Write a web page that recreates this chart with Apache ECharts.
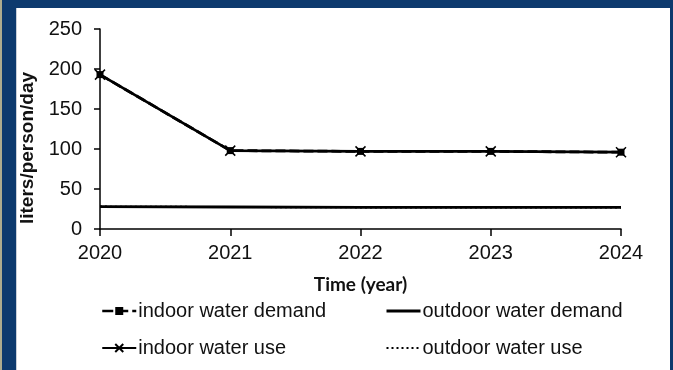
<!DOCTYPE html>
<html>
<head>
<meta charset="utf-8">
<script src="https://cdn.jsdelivr.net/npm/echarts@6/dist/echarts.min.js"></script>
<style>
  html, body { margin: 0; padding: 0; width: 673px; height: 370px; overflow: hidden; background: #0d3a6e; }
  #strip { position: absolute; left: 0; top: 0; width: 2px; height: 370px; background: #aeac8e; }
  #panel { position: absolute; left: 16px; top: 8px; width: 654px; height: 362px; background: #ffffff; border-left: 1px solid #c9cfd8; box-sizing: border-box; }
  #chart { position: absolute; left: 0; top: 0; width: 673px; height: 370px; }
</style>
</head>
<body>
<div id="strip"></div>
<div id="panel"></div>
<div id="chart"></div>
<script>
// Years on the horizontal axis
const years = ['2020', '2021', '2022', '2023', '2024'];

// Daily per-capita volumes (liters/person/day)
const indoorDemand = [193, 98, 97, 97, 96];
const indoorUse = [193, 98, 97, 97, 96];
const outdoorDemand = [28, 27.5, 27, 27, 27];
const outdoorUse = [28, 27.5, 27, 27, 27];

const seriesNames = ['indoor water demand', 'outdoor water demand', 'indoor water use', 'outdoor water use'];

const font = "'Liberation Sans', Arial, sans-serif";
const crossPath = 'path://M0,0L10,10M10,0L0,10';

const chart = echarts.init(document.getElementById('chart'), null, { renderer: 'canvas' });

const legendBase = {
  orient: 'vertical',
  top: 301,
  padding: 0,
  itemGap: 17,
  itemWidth: 34,
  itemHeight: 10,
  selectedMode: false,
  textStyle: { fontFamily: font, fontSize: 20, color: '#111', lineHeight: 20, padding: [0, 0, 0, -3] }
};

// Plain line icons (no marker) for the outdoor series
const lineOnly = { color: 'rgba(0,0,0,0)', borderWidth: 0, opacity: 0 };

chart.setOption({
  backgroundColor: 'transparent',
  animation: false,
  grid: { left: 100, right: 52, top: 29, bottom: 141, containLabel: false },
  legend: [
    Object.assign({}, legendBase, {
      left: 101,
      data: [
        { name: seriesNames[0], lineStyle: { width: 2.5, type: [11, 4] } },
        { name: seriesNames[2], lineStyle: { width: 2 } }
      ]
    }),
    Object.assign({}, legendBase, {
      left: 385,
      data: [
        { name: seriesNames[1], itemStyle: lineOnly, lineStyle: { width: 3 } },
        { name: seriesNames[3], itemStyle: lineOnly, lineStyle: { width: 2, type: [2, 3] } }
      ]
    })
  ],
  xAxis: {
    type: 'category',
    data: years,
    boundaryGap: false,
    name: 'Time (year)',
    nameLocation: 'middle',
    nameGap: 46,
    nameTextStyle: { fontFamily: "Lato, 'Liberation Sans', sans-serif", fontWeight: 'bold', fontSize: 19, color: '#111' },
    axisLine: { lineStyle: { color: '#000', width: 1.5 } },
    axisTick: { show: true, length: 7, lineStyle: { color: '#000', width: 1.5 } },
    axisLabel: { fontFamily: font, fontSize: 20, color: '#111', margin: 14 },
    splitLine: { show: false }
  },
  yAxis: {
    type: 'value',
    min: 0,
    max: 250,
    interval: 50,
    name: 'liters/person/day',
    nameLocation: 'middle',
    nameGap: 55,
    nameTextStyle: { fontFamily: font, fontWeight: 'bold', fontSize: 19, color: '#111', padding: [0, 38, 0, 0] },
    axisLine: { show: true, lineStyle: { color: '#000', width: 1.5 } },
    axisTick: { show: true, length: 6, lineStyle: { color: '#000', width: 1.5 } },
    axisLabel: { fontFamily: font, fontSize: 20, color: '#111', margin: 18 },
    splitLine: { show: false }
  },
  series: [
    {
      name: seriesNames[3],
      type: 'line',
      data: outdoorUse,
      symbol: 'none',
      lineStyle: { color: '#000', width: 2, type: [2, 3] },
      itemStyle: { color: '#000' },
      z: 1
    },
    {
      name: seriesNames[1],
      type: 'line',
      data: outdoorDemand,
      symbol: 'none',
      lineStyle: { color: '#000', width: 2.8 },
      itemStyle: { color: '#000' },
      z: 2
    },
    {
      name: seriesNames[0],
      type: 'line',
      data: indoorDemand,
      symbol: 'rect',
      symbolSize: 7,
      lineStyle: { color: '#000', width: 2.8, type: [10, 4] },
      itemStyle: { color: '#000' },
      z: 3
    },
    {
      name: seriesNames[2],
      type: 'line',
      data: indoorUse,
      symbol: crossPath,
      symbolSize: 10,
      lineStyle: { color: '#000', width: 2.8 },
      itemStyle: { color: '#000', borderColor: '#000', borderWidth: 1.5 },
      z: 4
    }
  ]
});
</script>
</body>
</html>
